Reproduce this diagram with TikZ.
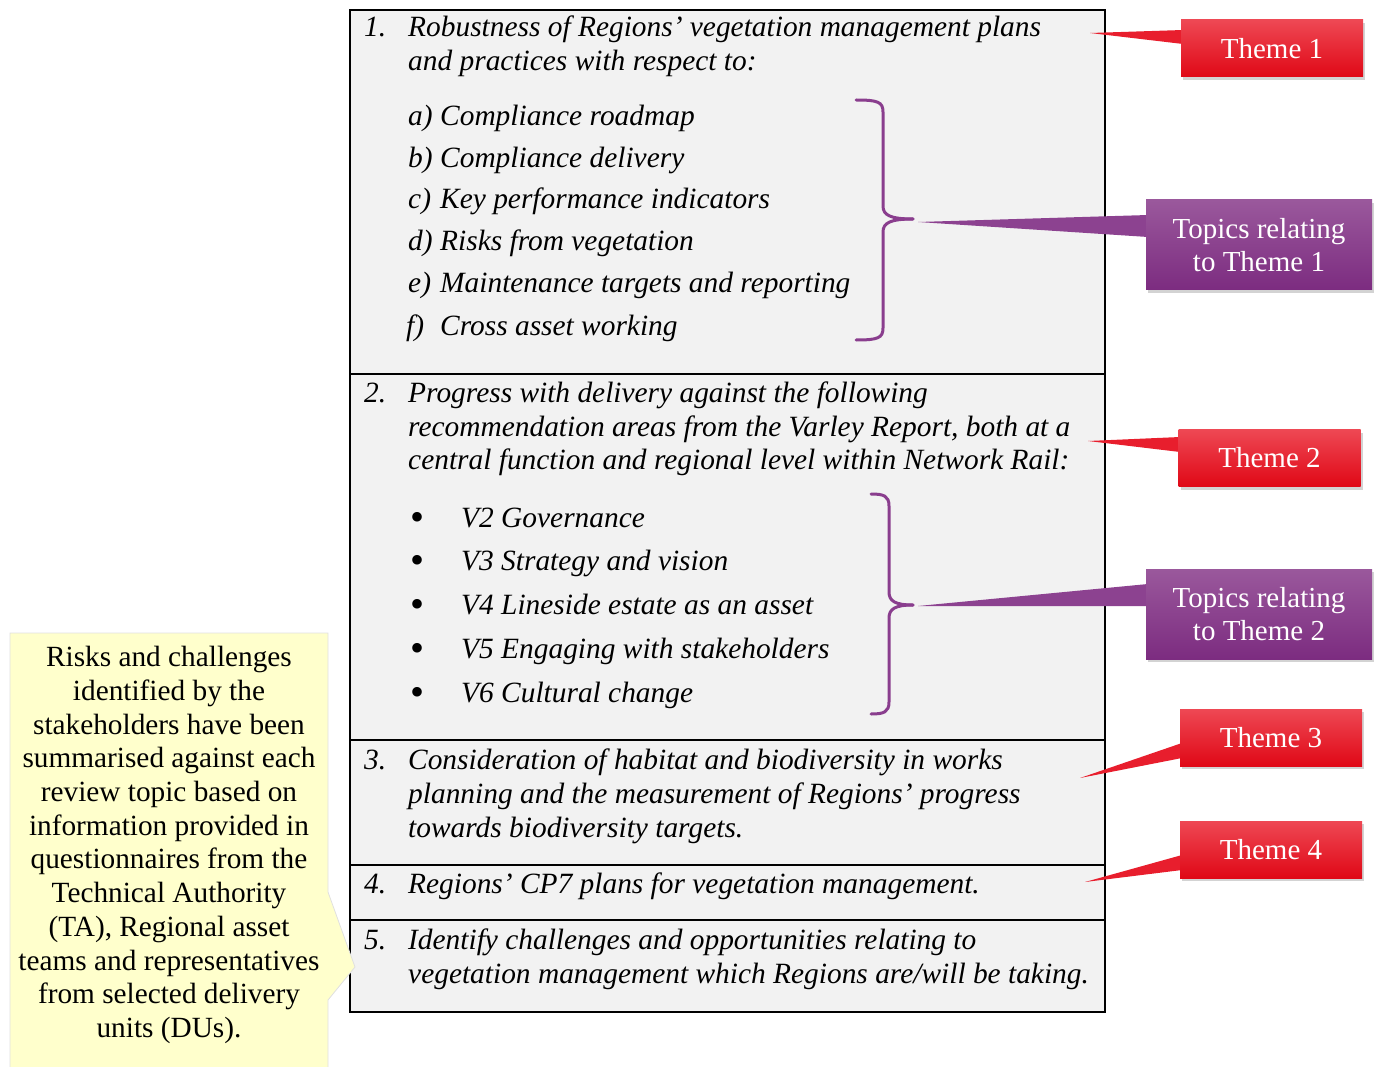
\documentclass[tikz,border=0pt]{standalone}
\usepackage{fontspec}
\setmainfont{Liberation Serif}
\usetikzlibrary{shadows}
\definecolor{boxgray}{RGB}{242,242,242}
\definecolor{redtop}{RGB}{238,72,84}
\definecolor{redbot}{RGB}{224,8,22}
\definecolor{redmid}{RGB}{232,30,45}
\definecolor{purtop}{RGB}{154,88,156}
\definecolor{purbot}{RGB}{124,44,128}
\definecolor{purmid}{RGB}{140,66,144}
\definecolor{bracecol}{RGB}{138,62,142}
\definecolor{notecol}{RGB}{255,255,204}
\tikzset{
 mtxt/.style={anchor=base west, inner sep=0pt, font=\fontsize{29.4}{34}\selectfont\itshape},
 bul/.style={anchor=base, inner sep=0pt, font=\fontsize{40}{34}\selectfont},
 themebox/.style={minimum width=182pt, minimum height=57pt, inner sep=0pt, top color=redtop, bottom color=redbot, text=white, font=\fontsize{29}{33}\selectfont, align=center, drop shadow={opacity=0.35, shadow xshift=2pt, shadow yshift=-3pt}},
 topicbox/.style={themebox, minimum width=226pt, minimum height=90pt, top color=purtop, bottom color=purbot},
 redptr/.style={fill=redmid},
 purptr/.style={fill=purmid},
 bracepath/.style={draw=bracecol, line width=3pt, line cap=round},
 divider/.style={draw=black, line width=1.5pt},
 notebox/.style={fill=notecol, draw=black!12, line width=0.8pt},
 notetxt/.style={inner sep=0pt, align=center, font=\fontsize{29.3}{33.7}\selectfont},
}
\begin{document}
\begin{tikzpicture}[x=1pt,y=-1pt]
\useasboundingbox (0,0) rectangle (1381,1067);
\clip (0,0) rectangle (1381,1067);
% main frame
\node[draw=black, line width=2pt, fill=boxgray, minimum width=755pt, minimum height=1002pt, inner sep=0pt, anchor=north west] (frame) at (349,9) {};
\draw[divider] (349,374) -- (1104,374);
\draw[divider] (349,740) -- (1104,740);
\draw[divider] (349,865) -- (1104,865);
\draw[divider] (349,920) -- (1104,920);
% section 1
\node[mtxt] (s1a) at (364,37) {\makebox[44pt][l]{1.}Robustness of Regions’ vegetation management plans};
\node[mtxt] (s1b) at (408,71) {and practices with respect to:};
\node[mtxt] (ia) at (408,126) {\makebox[32pt][l]{a)}Compliance roadmap};
\node[mtxt] (ib) at (408,168) {\makebox[32pt][l]{b)}Compliance delivery};
\node[mtxt] (ic) at (408,209) {\makebox[32pt][l]{c)}Key performance indicators};
\node[mtxt] (id) at (408,251) {\makebox[32pt][l]{d)}Risks from vegetation};
\node[mtxt] (ie) at (408,293) {\makebox[32pt][l]{e)}Maintenance targets and reporting};
\node[mtxt] (if) at (406,335) {\makebox[34pt][l]{f)}Cross asset working};
% section 2
\node[mtxt] (s2a) at (364,402) {\makebox[44pt][l]{2.}Progress with delivery against the following};
\node[mtxt] (s2b) at (408,436) {recommendation areas from the Varley Report, both at a};
\node[mtxt] (s2c) at (408,469) {central function and regional level within Network Rail:};
\node[bul] (b1) at (417,530) {\textbullet};
\node[bul] (b2) at (417,573) {\textbullet};
\node[bul] (b3) at (417,617) {\textbullet};
\node[bul] (b4) at (417,661) {\textbullet};
\node[bul] (b5) at (417,705) {\textbullet};
\node[mtxt] (v2) at (461,527) {V2 Governance};
\node[mtxt] (v3) at (461,570) {V3 Strategy and vision};
\node[mtxt] (v4) at (461,614) {V4 Lineside estate as an asset};
\node[mtxt] (v5) at (461,658) {V5 Engaging with stakeholders};
\node[mtxt] (v6) at (461,702) {V6 Cultural change};
% section 3
\node[mtxt] (s3a) at (364,769) {\makebox[44pt][l]{3.}Consideration of habitat and biodiversity in works};
\node[mtxt] (s3b) at (408,803) {planning and the measurement of Regions’ progress};
\node[mtxt] (s3c) at (408,837) {towards biodiversity targets.};
% section 4
\node[mtxt] (s4a) at (364,893) {\makebox[44pt][l]{4.}Regions’ CP7 plans for vegetation management.};
% section 5
\node[mtxt] (s5a) at (364,949) {\makebox[44pt][l]{5.}Identify challenges and opportunities relating to};
\node[mtxt] (s5b) at (408,983) {vegetation management which Regions are/will be taking.};
% braces
\coordinate (br1) at (913,219);
\coordinate (br2) at (913,605);
\draw[bracepath] (856,100) .. controls (878,100) and (883,102) .. (883,112) -- (883,206) .. controls (883,215) and (890,219) .. (br1);
\draw[bracepath] (br1) .. controls (890,219) and (883,223) .. (883,232) -- (883,328) .. controls (883,338) and (878,340) .. (856,340);
\draw[bracepath] (871,494) .. controls (884,494) and (889,496) .. (889,506) -- (889,592) .. controls (889,601) and (895,605) .. (br2);
\draw[bracepath] (br2) .. controls (895,605) and (889,609) .. (889,618) -- (889,702) .. controls (889,712) and (884,714) .. (871,714);
% callouts
\coordinate (t1tip) at (1090,33);
\coordinate (p1tip) at (918,222);
\coordinate (t2tip) at (1088,441);
\coordinate (p2tip) at (918,606);
\coordinate (t3tip) at (1080,778);
\coordinate (t4tip) at (1085,882);
\fill[redptr] (1183,30) -- (t1tip) -- (1183,44) -- cycle;
\node[themebox] (t1) at (1272,48.5) {Theme 1};
\fill[purptr] (1148,215) -- (p1tip) -- (1148,237) -- cycle;
\node[topicbox] (p1) at (1259,245) {Topics relating\\to Theme 1};
\fill[redptr] (1180,437) -- (t2tip) -- (1180,452) -- cycle;
\node[themebox] (t2) at (1269.5,458) {Theme 2};
\fill[purptr] (1148,584) -- (p2tip) -- (1148,606) -- cycle;
\node[topicbox] (p2) at (1259,614) {Topics relating\\to Theme 2};
\fill[redptr] (1182,743) -- (t3tip) -- (1182,758) -- cycle;
\node[themebox] (t3) at (1271,737.5) {Theme 3};
\fill[redptr] (1182,855) -- (t4tip) -- (1182,870) -- cycle;
\node[themebox] (t4) at (1271,849.5) {Theme 4};
% yellow note
\coordinate (ntip) at (355,967);
\draw[notebox] (10,633) -- (328,633) -- (328,892) -- (ntip) -- (328,1000) -- (328,1090) -- (10,1090) -- cycle;
\node[notetxt] (note) at (169,845) {Risks and challenges\\identified by the\\stakeholders have been\\summarised against each\\review topic based on\\information provided in\\questionnaires from the\\Technical Authority\\(TA), Regional asset\\teams and representatives\\from selected delivery\\units (DUs).};
\end{tikzpicture}
\end{document}
